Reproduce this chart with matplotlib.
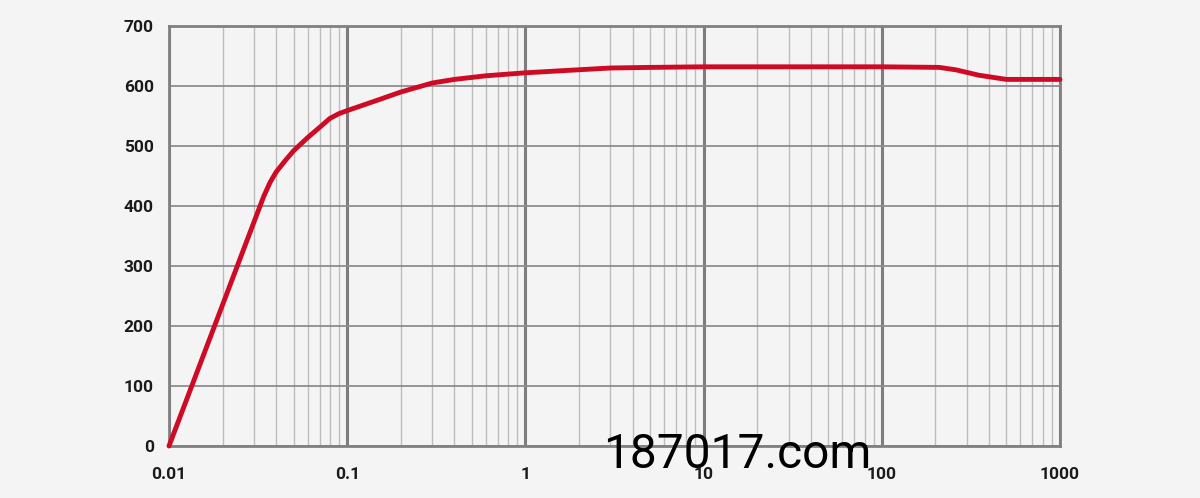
import matplotlib
matplotlib.use("Agg")
import matplotlib.pyplot as plt
from matplotlib.ticker import FixedLocator, NullFormatter

x_vals = [0.01, 0.034, 0.037, 0.040, 0.045, 0.05, 0.06, 0.07, 0.08, 0.09, 0.1, 0.15, 0.2, 0.3, 0.4, 0.6, 1, 1.5, 3, 5, 10, 100, 210, 260, 350, 500, 1000]
y_vals = [0, 416, 440, 457, 476, 492, 514, 531, 546, 554, 559, 577, 590, 605, 611, 617, 622, 625, 630, 631, 632, 632, 631, 627, 618, 611, 611]
x_ticks = [0.01, 0.1, 1, 10, 100, 1000]
x_tick_labels = ["0.01", "0.1", "1", "10", "100", "1000"]
y_ticks = [0, 100, 200, 300, 400, 500, 600, 700]
watermark = "187017.com"

bg = "#f4f4f4"
fig = plt.figure(figsize=(12, 4.98), dpi=100, facecolor=bg)
ax = fig.add_axes([169/1200, 52/498, (1060-169)/1200, (446-26)/498])
ax.set_facecolor(bg)
ax.set_xscale("log")
ax.set_xlim(0.01, 1000)
ax.set_ylim(0, 700)

minor = [m * 10.0**e for e in range(-2, 3) for m in range(2, 10)]
ax.xaxis.set_major_locator(FixedLocator(x_ticks))
ax.xaxis.set_minor_locator(FixedLocator(minor))
ax.xaxis.set_minor_formatter(NullFormatter())
ax.set_xticks(x_ticks)
ax.set_xticklabels(x_tick_labels)
ax.set_yticks(y_ticks)

for v in minor:
    ax.axvline(v, color="#bdbdbd", lw=1.0, zorder=1)
for v in x_ticks:
    ax.axvline(v, color="#7d7d80", lw=2.2, zorder=2)
for v in y_ticks:
    ax.axhline(v, color="#8e8e90", lw=1.3, zorder=2)

ax.plot(x_vals, y_vals, color="#cf0a24", lw=3.5, solid_joinstyle="round",
        solid_capstyle="round", zorder=5, clip_on=False)

for s in ax.spines.values():
    s.set_color("#808083")
    s.set_linewidth(2.0)

ax.tick_params(axis="both", which="both", length=0)
ax.tick_params(axis="x", pad=15)
ax.tick_params(axis="y", pad=11)
for lab in ax.get_xticklabels() + ax.get_yticklabels():
    lab.set_fontsize(12.5)
    lab.set_fontweight("bold")
    lab.set_color("#1a1a1a")
    lab.set_family("Roboto")

fig.text(737/1200, 1 - 468/498, watermark, ha="center", va="baseline",
         fontsize=34.5, color="black", family="Roboto", zorder=10)

fig.savefig("out.png", dpi=100, facecolor=bg)
